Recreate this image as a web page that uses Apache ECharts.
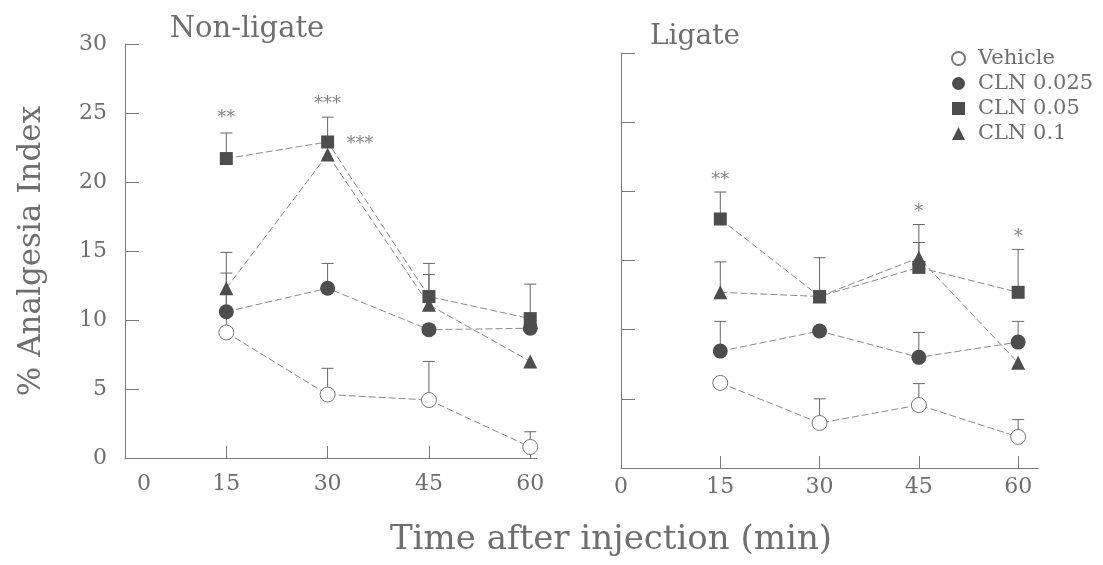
<!DOCTYPE html>
<html>
<head>
<meta charset="utf-8">
<script src="https://cdn.jsdelivr.net/npm/echarts@6/dist/echarts.min.js"></script>
<style>
  html, body { margin: 0; padding: 0; background: #fff; }
  #chart { width: 1103px; height: 565px; }
</style>
</head>
<body>
<div id="chart"></div>
<script>
// ---------- data ----------
const minutes = [15, 30, 45, 60]
const xTickLabels = [0, 15, 30, 45, 60]
const seriesNames = ['Vehicle', 'CLN 0.025', 'CLN 0.05', 'CLN 0.1']

// Non-ligate panel (mean, upper error)
const nlVehicle = [9.1, 4.6, 4.2, 0.8]
const nlVehicleErr = [4.3, 1.9, 2.8, 1.1]
const nlCln025 = [10.6, 12.3, 9.3, 9.4]
const nlCln025Err = [1.3, 1.8, 0, 0]
const nlCln05 = [21.7, 22.9, 11.7, 10.1]
const nlCln05Err = [1.85, 1.8, 2.4, 2.5]
const nlCln1 = [12.3, 22.0, 11.1, 7.0]
const nlCln1Err = [2.6, 0, 2.2, 0]

// Ligate panel
const lgVehicle = [6.15, 3.25, 4.55, 2.25]
const lgVehicleErr = [0, 1.75, 1.55, 1.25]
const lgCln025 = [8.45, 9.9, 8.0, 9.1]
const lgCln025Err = [2.15, 0, 1.8, 1.5]
const lgCln05 = [18.0, 12.4, 14.5, 12.7]
const lgCln05Err = [1.95, 2.8, 3.1, 3.1]
const lgCln1 = [12.7, 12.4, 15.2, 7.6]
const lgCln1Err = [2.2, 0, 1.1, 0]

// significance marks [time, y, text]
const nlStars = [[15, 24.6, '**'], [30, 25.6, '***'], [34.8, 22.7, '***']]
const lgStars = [[15, 20.8, '**'], [45, 18.5, '*'], [60, 16.7, '*']]

// ---------- styles ----------
const FONT = 'DejaVu Serif'
const TEXT = '#6e6e6e'
const AXIS = '#7a7a7a'
const MARK = '#4d4d4d'
const LINE = '#8a8a8a'

const markerStyles = [
  { symbol: 'circle', size: 15, itemStyle: { color: '#fff', borderColor: '#777', borderWidth: 1 } },
  { symbol: 'circle', size: 15, itemStyle: { color: MARK } },
  { symbol: 'rect', size: 13, itemStyle: { color: MARK } },
  { symbol: 'triangle', size: 14, itemStyle: { color: MARK } },
]

function lineSeries(name, means, idx, panel) {
  const m = markerStyles[idx]
  return {
    name, type: 'line', xAxisIndex: panel, yAxisIndex: panel,
    data: minutes.map((t, i) => [t, means[i]]),
    symbol: m.symbol, symbolSize: m.size, itemStyle: m.itemStyle,
    lineStyle: { color: LINE, width: 1, type: [7, 3] },
    z: 3, animation: false,
  }
}

function errorSeries(means, errs, panel) {
  return {
    type: 'custom', xAxisIndex: panel, yAxisIndex: panel, z: 2, animation: false,
    data: minutes.map((t, i) => [t, means[i], means[i] + errs[i]]).filter(d => d[2] > d[1]),
    renderItem: (params, api) => {
      const base = api.coord([api.value(0), api.value(1)])
      const top = api.coord([api.value(0), api.value(2)])
      const st = { stroke: '#666', lineWidth: 1 }
      return {
        type: 'group',
        children: [
          { type: 'line', shape: { x1: base[0], y1: base[1], x2: top[0], y2: top[1] }, style: st },
          { type: 'line', shape: { x1: top[0] - 6, y1: top[1], x2: top[0] + 6, y2: top[1] }, style: st },
        ],
      }
    },
  }
}

function starSeries(stars, panel) {
  return {
    type: 'scatter', xAxisIndex: panel, yAxisIndex: panel, symbolSize: 0, animation: false,
    data: stars,
    label: { show: true, position: 'inside', formatter: p => p.data[2], color: '#666', fontSize: 18, fontFamily: FONT },
  }
}

function xAxisFor(panel, max, labelMargin) {
  return {
    type: 'value', gridIndex: panel, min: 0, max,
    axisLine: { lineStyle: { color: AXIS, width: 1 } },
    axisTick: { inside: true, length: 12, lineStyle: { color: AXIS }, customValues: [15, 30, 45, 60] },
    axisLabel: {
      customValues: xTickLabels, margin: labelMargin, color: TEXT, fontSize: 22, fontFamily: FONT,
      formatter: v => (v === 0 && panel === 0 ? '{z|0}' : String(v)),
      rich: { z: { padding: [0, 0, 0, 38], color: TEXT, fontSize: 22, fontFamily: FONT } },
    },
    splitLine: { show: false },
  }
}

function yAxisFor(panel, showLabels) {
  return {
    type: 'value', gridIndex: panel, min: 0, max: 30, interval: 5,
    axisLine: { show: true, lineStyle: { color: AXIS, width: 1 } },
    axisTick: { show: true, inside: true, length: 14, lineStyle: { color: AXIS } },
    axisLabel: { show: showLabels, margin: 18, color: TEXT, fontSize: 22, fontFamily: FONT },
    splitLine: { show: false },
    name: showLabels ? '% Analgesia Index' : '',
    nameLocation: 'middle', nameGap: 78, nameRotate: 90,
    nameTextStyle: { color: TEXT, fontSize: 31, fontFamily: FONT },
  }
}

const nlMeans = [nlVehicle, nlCln025, nlCln05, nlCln1]
const nlErrs = [nlVehicleErr, nlCln025Err, nlCln05Err, nlCln1Err]
const lgMeans = [lgVehicle, lgCln025, lgCln05, lgCln1]
const lgErrs = [lgVehicleErr, lgCln025Err, lgCln05Err, lgCln1Err]

const series = []
seriesNames.forEach((n, i) => {
  series.push(errorSeries(nlMeans[i], nlErrs[i], 0))
  series.push(errorSeries(lgMeans[i], lgErrs[i], 1))
})
seriesNames.forEach((n, i) => {
  series.push(lineSeries(n, nlMeans[i], i, 0))
  series.push(lineSeries(n, lgMeans[i], i, 1))
})
series.push(starSeries(nlStars, 0))
series.push(starSeries(lgStars, 1))

const chart = echarts.init(document.getElementById('chart'), null, { renderer: 'canvas' })
chart.setOption({
  backgroundColor: '#fff',
  animation: false,
  title: [
    { text: 'Non-ligate', left: 242, top: 10, textAlign: 'center', textStyle: { color: TEXT, fontSize: 29, fontWeight: 'normal', fontFamily: FONT } },
    { text: 'Ligate', left: 690, top: 18, textAlign: 'center', textStyle: { color: TEXT, fontSize: 28, fontWeight: 'normal', fontFamily: FONT } },
    { text: 'Time after injection (min)', left: 606, top: 518, textAlign: 'center', textStyle: { color: TEXT, fontSize: 34, fontWeight: 'normal', fontFamily: FONT } },
  ],
  legend: {
    orient: 'vertical', left: 946, top: 43, itemGap: 4, itemWidth: 13, itemHeight: 13,
    textStyle: { color: TEXT, fontSize: 21, fontFamily: FONT, padding: [0, 0, 0, 8] },
    data: seriesNames.map((n, i) => ({ name: n, icon: markerStyles[i].symbol })),
  },
  grid: [
    { left: 125, top: 44, width: 412, height: 414 },
    { left: 621, top: 53, width: 417, height: 415 },
  ],
  xAxis: [xAxisFor(0, 61, 15), xAxisFor(1, 63, 8)],
  yAxis: [yAxisFor(0, true), yAxisFor(1, false)],
  series,
})
</script>
</body>
</html>
